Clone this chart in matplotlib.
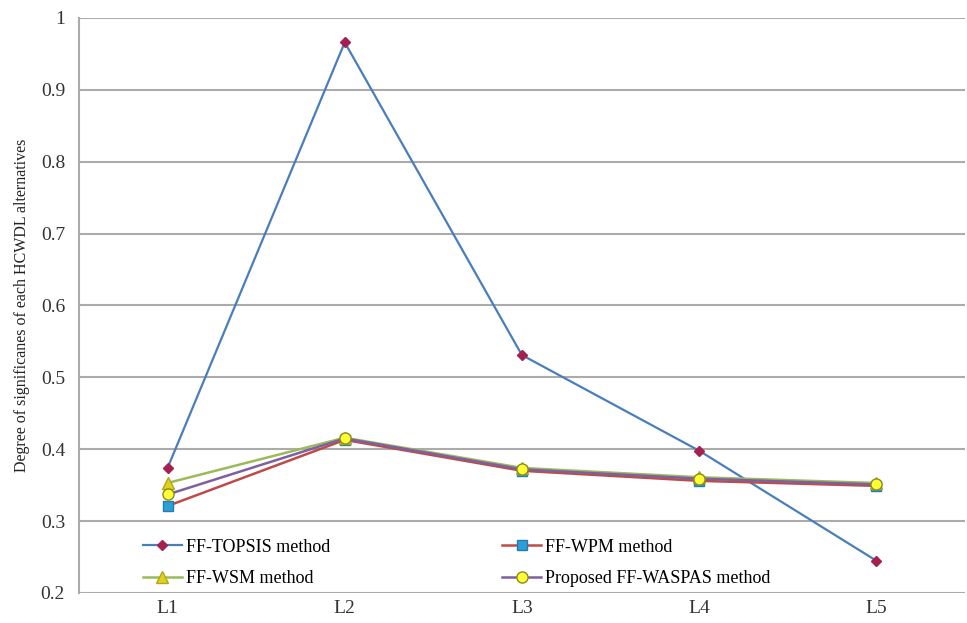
import matplotlib.pyplot as plt

# dados
alternativas = ["L1", "L2", "L3", "L4", "L5"]
topsis = [0.374, 0.966, 0.531, 0.398, 0.245]
wpm = [0.321, 0.413, 0.370, 0.356, 0.349]
wsm = [0.353, 0.416, 0.374, 0.361, 0.353]
waspas = [0.337, 0.415, 0.372, 0.359, 0.351]

plt.rcParams['font.family'] = ['Liberation Serif', 'DejaVu Serif']

fig = plt.figure(figsize=(9.67, 6.23), dpi=100)
ax = fig.add_axes([0.0817, 0.0482, 0.916, 0.923])

x = range(len(alternativas))

l_top, = ax.plot(x, topsis, color='#4a7ebb', lw=1.6, marker='D', ms=5.5,
                 mfc='#a3204f', mec='#a3204f', label='FF-TOPSIS method', zorder=3)
l_wpm, = ax.plot(x, wpm, color='#be4b48', lw=1.8, marker='s', ms=7.5,
                 mfc='#2e9fd6', mec='#1f7fb0', label='FF-WPM method', zorder=4)
l_wsm, = ax.plot(x, wsm, color='#9bbb59', lw=1.8, marker='^', ms=8,
                 mfc='#e0d020', mec='#b0a818', label='FF-WSM method', zorder=4)
l_was, = ax.plot(x, waspas, color='#7d60a0', lw=1.8, marker='o', ms=8,
                 mfc='#ffff33', mec='#8a8a20', label='Proposed FF-WASPAS method', zorder=5)

ax.set_xlim(-0.5, len(alternativas) - 0.5)
ax.set_ylim(0.2, 1.0)
ax.set_yticks([0.2, 0.3, 0.4, 0.5, 0.6, 0.7, 0.8, 0.9, 1.0])
ax.set_yticklabels(['0.2', '0.3', '0.4', '0.5', '0.6', '0.7', '0.8', '0.9', '1'])
ax.set_xticks(list(x))
ax.set_xticklabels(alternativas)
ax.tick_params(axis='both', length=0, labelsize=14, colors='#333333')
ax.tick_params(axis='y', pad=10)
ax.tick_params(axis='x', pad=5)

ax.yaxis.grid(True, color='#ababab', lw=1.5)
ax.set_axisbelow(True)
for s in ['top', 'right', 'bottom']:
    ax.spines[s].set_visible(False)
ax.spines['left'].set_color('#ababab')
ax.spines['left'].set_linewidth(1.5)

ax.set_ylabel('Degree of significanes of each HCWDL alternatives',
              fontsize=11.5, labelpad=8, color='#222222')

# ordem por colunas: TOPSIS/WSM na 1a coluna, WPM/WASPAS na 2a
ax.legend([l_top, l_wsm, l_wpm, l_was],
          [l.get_label() for l in [l_top, l_wsm, l_wpm, l_was]],
          loc='lower left', bbox_to_anchor=(0.065, 0.0), ncol=2, frameon=False,
          fontsize=13, handlelength=2.2, handletextpad=0.2, columnspacing=9.5,
          labelspacing=0.8, borderaxespad=-0.07)

fig.savefig('out.png', dpi=100)
